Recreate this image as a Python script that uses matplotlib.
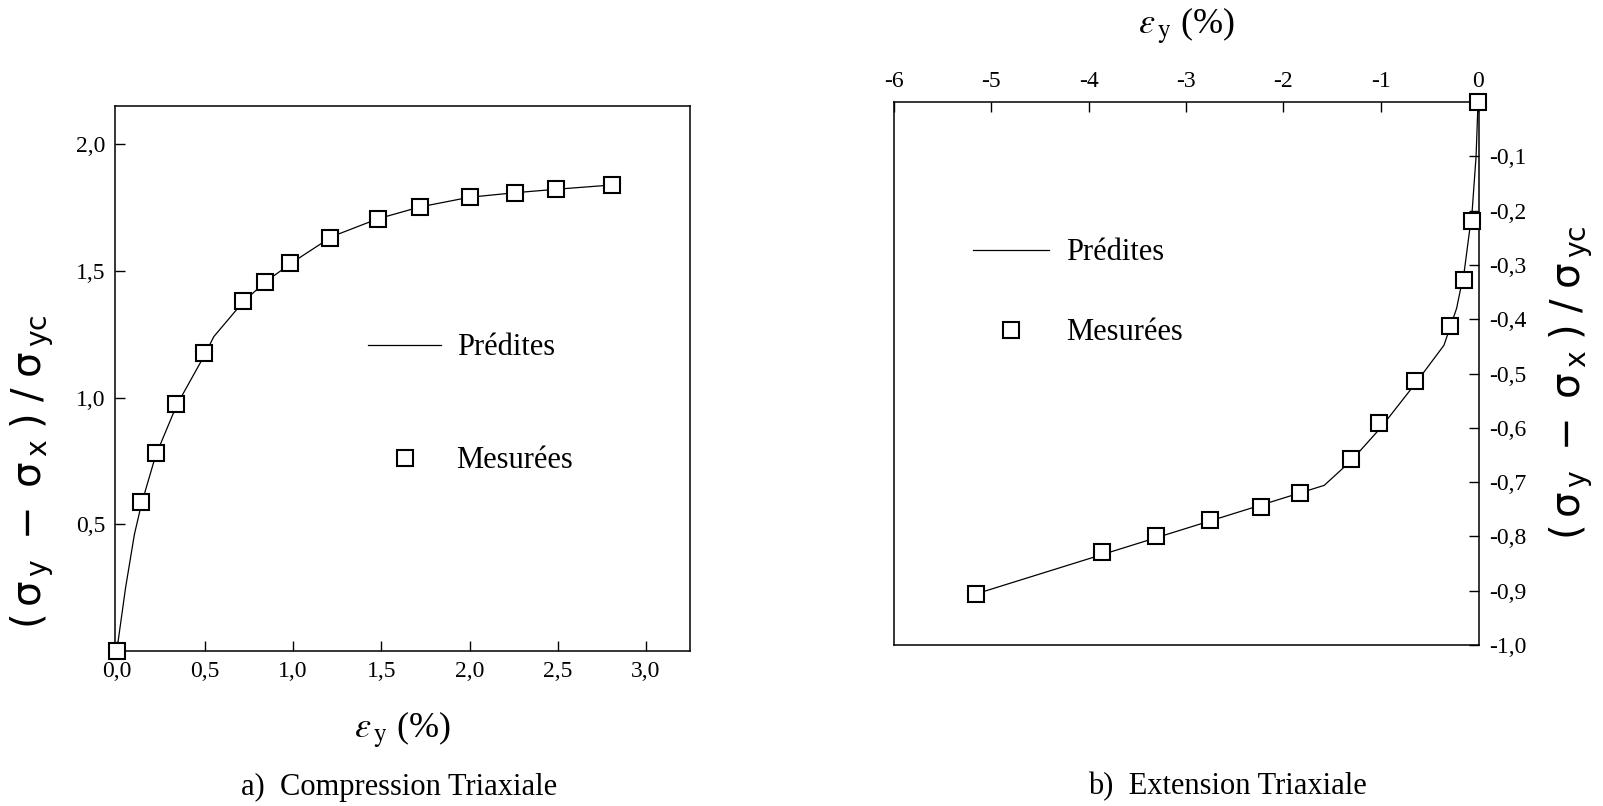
import matplotlib
matplotlib.use("Agg")
import matplotlib.pyplot as plt

# a) compression triaxiale
comp_eps_mes = [0.0, 0.14, 0.22, 0.336, 0.495, 0.717, 0.843, 0.985, 1.21, 1.48, 1.72, 2.0, 2.26, 2.49, 2.805]
comp_sig_mes = [0.0, 0.587, 0.78, 0.974, 1.176, 1.38, 1.456, 1.532, 1.631, 1.704, 1.751, 1.792, 1.807, 1.824, 1.839]
comp_eps_pred = [0.0, 0.05, 0.1, 0.14, 0.22, 0.34, 0.5, 0.55, 0.72, 0.85, 1.0, 1.22, 1.48, 1.72, 2.0, 2.26, 2.5, 2.8]
comp_sig_pred = [0.0, 0.25, 0.46, 0.58, 0.77, 0.97, 1.17, 1.24, 1.38, 1.46, 1.535, 1.635, 1.705, 1.752, 1.79, 1.808, 1.822, 1.838]

# b) extension triaxiale
ext_eps_mes = [0.0, -0.063, -0.144, -0.286, -0.65, -1.015, -1.31, -1.825, -2.225, -2.75, -3.31, -3.86, -5.16]
ext_sig_mes = [0.0, -0.22, -0.327, -0.413, -0.514, -0.592, -0.657, -0.72, -0.746, -0.769, -0.80, -0.829, -0.906]
ext_eps_pred = [0.0, -0.02, -0.06, -0.14, -0.22, -0.35, -0.65, -1.0, -1.3, -1.58, -5.16]
ext_sig_pred = [0.0, -0.1, -0.2, -0.31, -0.38, -0.448, -0.52, -0.6, -0.66, -0.706, -0.906]

comp_xticks = [0.0, 0.5, 1.0, 1.5, 2.0, 2.5, 3.0]
comp_yticks = [0.5, 1.0, 1.5, 2.0]
ext_xticks = [-6, -5, -4, -3, -2, -1, 0]
ext_yticks = [-0.1, -0.2, -0.3, -0.4, -0.5, -0.6, -0.7, -0.8, -0.9, -1.0]

plt.rcParams['font.family'] = ['Liberation Serif', 'DejaVu Serif']
plt.rcParams['mathtext.fontset'] = 'stix'

W, H = 1603, 806
fig = plt.figure(figsize=(W / 100, H / 100), dpi=100)
fig.patch.set_facecolor('white')

def fr(v):
    return f"{v:.1f}".replace('.', ',')

ylab = (r'$(\,\mathrm{\sigma}_{\,\mathrm{y}}\;-\;\mathrm{\sigma}_{\,\mathrm{x}}\;)'
        r'\;/\;\mathrm{\sigma}_{\,\mathrm{yc}}$')
xlab = r'$\varepsilon_{\,\mathrm{y}}$ (%)'
mk = dict(marker='s', ms=11.5, mfc='white', mec='black', mew=1.5, ls='none', clip_on=False, zorder=4)
ln = dict(color='black', lw=0.9, zorder=3)

# ---- left
ax1 = fig.add_axes([115 / W, 1 - 651 / H, 575 / W, 545 / H])
ax1.plot(comp_eps_pred, comp_sig_pred, label='Prédites', **ln)
ax1.plot(comp_eps_mes, comp_sig_mes, label='Mesurées', **mk)
ax1.set_xlim(-0.01, 3.25)
ax1.set_ylim(0, 2.15)
ax1.set_xticks(comp_xticks)
ax1.set_xticklabels([fr(v) for v in comp_xticks])
ax1.set_yticks(comp_yticks)
ax1.set_yticklabels([fr(v) for v in comp_yticks])
ax1.tick_params(direction='in', length=7, width=1, labelsize=17, pad=7)
ax1.set_xlabel(xlab, fontsize=26, labelpad=20)
ax1.set_ylabel(ylab, fontsize=29, math_fontfamily='dejavusans')
ax1.yaxis.set_label_coords(-0.103, 0.33)
ax1.legend(loc='upper left', bbox_to_anchor=(0.44, 0.583), frameon=False, fontsize=22,
           handlelength=2.4, handletextpad=0.5, labelspacing=2.75, borderpad=0, borderaxespad=0)
for s in ax1.spines.values():
    s.set_linewidth(1.1)

# ---- right
ax2 = fig.add_axes([894 / W, 1 - 645 / H, 585 / W, 543 / H])
ax2.plot(ext_eps_pred, ext_sig_pred, label='Prédites', **ln)
ax2.plot(ext_eps_mes, ext_sig_mes, label='Mesurées', **mk)
ax2.set_xlim(-6, 0.01)
ax2.set_ylim(-1.0, 0.0)
ax2.xaxis.tick_top()
ax2.xaxis.set_label_position('top')
ax2.yaxis.tick_right()
ax2.yaxis.set_label_position('right')
ax2.set_xticks(ext_xticks)
ax2.set_xticklabels([str(v) for v in ext_xticks])
ax2.set_yticks(ext_yticks)
ax2.set_yticklabels([fr(v) for v in ext_yticks])
ax2.tick_params(direction='in', length=7, width=1, labelsize=17, pad=7)
ax2.set_xlabel(xlab, fontsize=26, labelpad=27)
ax2.set_ylabel(ylab, fontsize=29, math_fontfamily='dejavusans', rotation=90)
ax2.yaxis.set_label_coords(1.118, 0.483)
ax2.legend(loc='upper left', bbox_to_anchor=(0.135, 0.749), frameon=False, fontsize=22,
           handlelength=2.5, handletextpad=0.55, labelspacing=1.67, borderpad=0, borderaxespad=0)
for s in ax2.spines.values():
    s.set_linewidth(1.1)

fig.text(399 / W, 1 - 787 / H, 'a)  Compression Triaxiale', fontsize=22, ha='center', va='center')
fig.text(1227 / W, 1 - 787 / H, 'b)  Extension Triaxiale', fontsize=22, ha='center', va='center')

fig.savefig('out.png', dpi=100, facecolor='white')
